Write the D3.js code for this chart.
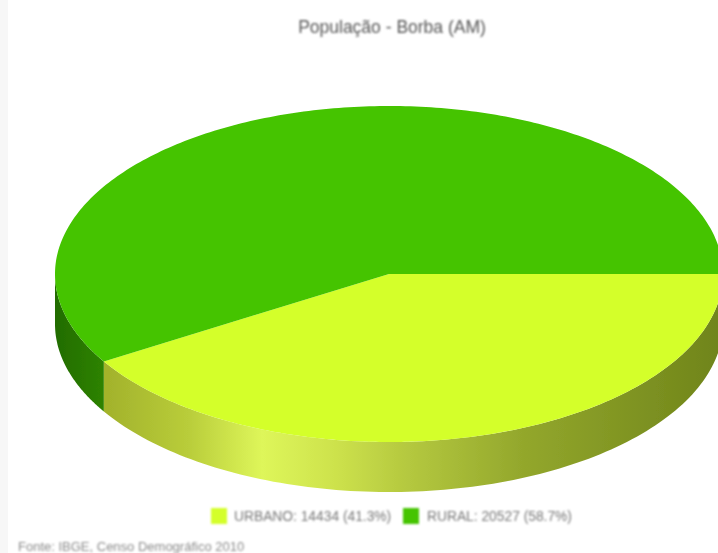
<!DOCTYPE html>
<html>
<head>
<meta charset="utf-8">
<script src="https://cdn.jsdelivr.net/npm/d3@7/dist/d3.min.js"></script>
<style>
  html, body { margin: 0; padding: 0; background: #fff; }
  svg { display: block; }
  text { font-family: "Liberation Sans", Arial, sans-serif; }
</style>
</head>
<body>
<svg id="chart" width="718" height="553"></svg>
<script>
const categories = ["URBANO", "RURAL"];
const populacao = [14434, 20527];
const percentuais = ["41.3%", "58.7%"];
const topColors = ["#d4ff2a", "#44c400"];
const titulo = "População - Borba (AM)";
const fonte = "Fonte: IBGE, Censo Demográfico 2010";

const width = 718, height = 553;
const cx = 389, cy = 274, rx = 334, ry = 168, depth = 50;

const svg = d3.select("#chart");
const defs = svg.append("defs");

defs.append("filter").attr("id", "soft")
  .attr("x", "-5%").attr("y", "-5%").attr("width", "110%").attr("height", "110%")
  .append("feGaussianBlur").attr("stdDeviation", 0.7);
defs.append("filter").attr("id", "softText")
  .attr("x", "-5%").attr("y", "-40%").attr("width", "110%").attr("height", "180%")
  .append("feGaussianBlur").attr("stdDeviation", 0.9);

// Side walls are shaded horizontally, brightest toward the lower left of the rim.
function sideGradient(id, stops) {
  const g = defs.append("linearGradient").attr("id", id)
    .attr("gradientUnits", "userSpaceOnUse")
    .attr("x1", cx - rx).attr("x2", cx + rx).attr("y1", 0).attr("y2", 0);
  stops.forEach(([o, c]) => g.append("stop").attr("offset", o).attr("stop-color", c));
}
sideGradient("side-0", [[0.08, "#a3b32c"], [0.2, "#b9cd3a"], [0.31, "#def65a"], [0.42, "#cde24c"], [0.52, "#b6ca40"], [0.7, "#93a72c"], [1, "#6f841a"]]);
sideGradient("side-1", [[0, "#226c00"], [0.08, "#2f8500"], [1, "#2f8500"]]);

// Canvas margin strip on the left
svg.append("rect").attr("x", 0).attr("y", 0).attr("width", 8).attr("height", height).attr("fill", "#f7f7f7");

const arcs = d3.pie().sort(null).startAngle(Math.PI / 2).endAngle(Math.PI / 2 + 2 * Math.PI)(populacao);

// Unit-circle scales flatten the disc into its tilted ellipse.
const px = d3.scaleLinear().domain([-1, 1]).range([cx - rx, cx + rx]);
const py = d3.scaleLinear().domain([-1, 1]).range([cy - ry, cy + ry]);
const rim = a => [px(Math.sin(a)), py(-Math.cos(a))];

function sidePath(a0, a1) {
  const n = 120;
  const front = d3.range(n + 1).map(i => rim(a0 + (a1 - a0) * i / n));
  const back = front.slice().reverse().map(([x, y]) => [x, y + depth]);
  return d3.line()(front.concat(back)) + "Z";
}
function topPath(a0, a1) {
  const n = 240;
  const pts = d3.range(n + 1).map(i => rim(a0 + (a1 - a0) * i / n));
  return d3.line()([[px(0), py(0)]].concat(pts)) + "Z";
}

const pie = svg.append("g").attr("filter", "url(#soft)");

// Only the lower half of the rim faces the viewer.
arcs.forEach((d, i) => {
  const a0 = Math.max(d.startAngle, Math.PI / 2);
  const a1 = Math.min(d.endAngle, 3 * Math.PI / 2);
  if (a1 > a0) pie.append("path").attr("d", sidePath(a0, a1)).attr("fill", `url(#side-${i})`);
});
arcs.forEach((d, i) => {
  pie.append("path").attr("d", topPath(d.startAngle, d.endAngle)).attr("fill", topColors[i]);
});

const texts = svg.append("g").attr("filter", "url(#softText)");

texts.append("text").attr("x", 392).attr("y", 33).attr("text-anchor", "middle")
  .attr("font-size", 17.5).attr("fill", "#555").text(titulo);

// Legend
const legendX = [211, 403], labelX = [234, 427];
categories.forEach((c, i) => {
  texts.append("rect").attr("x", legendX[i]).attr("y", 508).attr("width", 16).attr("height", 16)
    .attr("fill", topColors[i]);
  texts.append("text").attr("x", labelX[i]).attr("y", 521)
    .attr("font-size", 13.8).attr("fill", "#777")
    .text(`${c}: ${populacao[i]} (${percentuais[i]})`);
});

texts.append("text").attr("x", 18).attr("y", 551)
  .attr("font-size", 13).attr("fill", "#8a8a8a").text(fonte);
</script>
</body>
</html>
